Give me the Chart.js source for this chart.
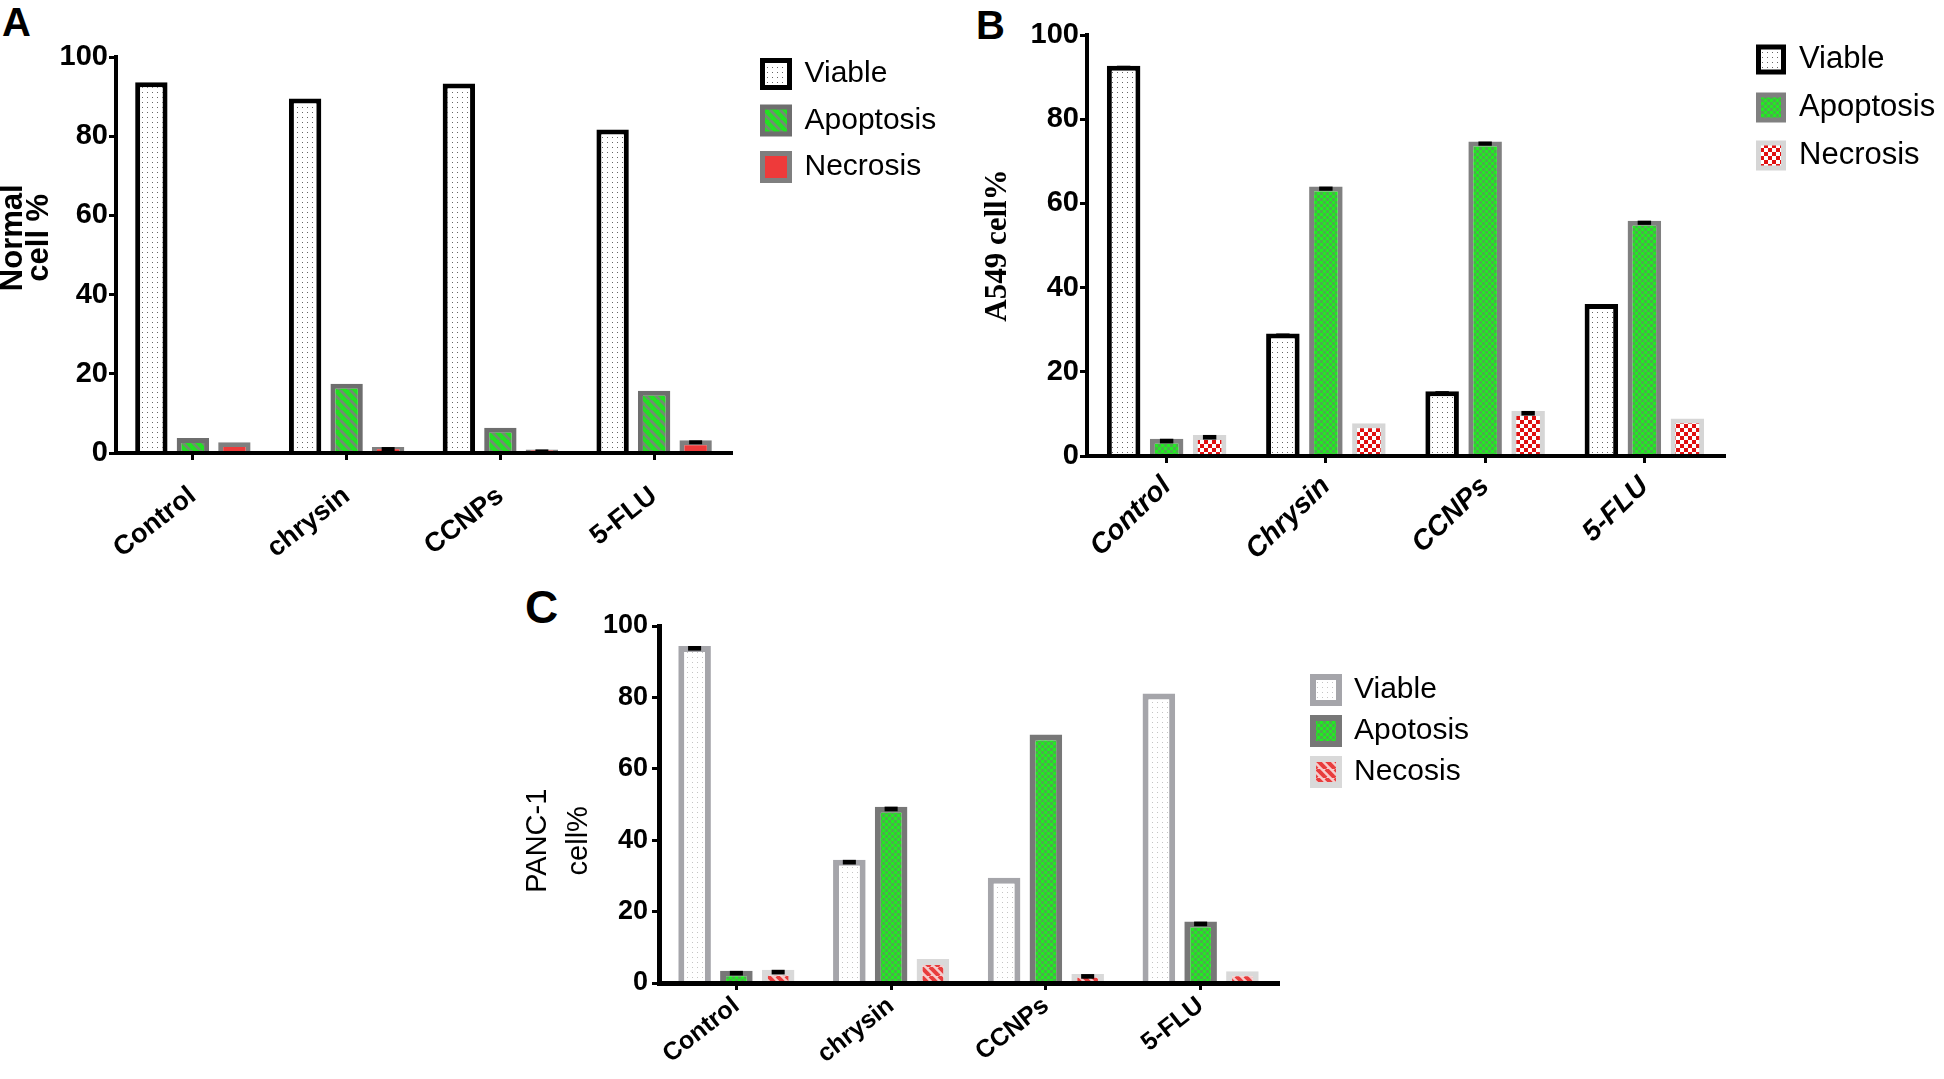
<!DOCTYPE html>
<html>
<head>
<meta charset="utf-8">
<script src="https://cdn.jsdelivr.net/npm/chart.js@4.4.1/dist/chart.umd.min.js"></script>
<style>
  html, body { margin: 0; padding: 0; background: #fff; }
  body { width: 1944px; height: 1079px; position: relative; overflow: hidden; font-family: 'Liberation Sans', Arial, sans-serif; }
  canvas { position: absolute; }
  .tag { position: absolute; font-weight: bold; line-height: 1; color: #000; }
</style>
</head>
<body>
<div class="tag" style="left:2px;top:2px;font-size:40px">A</div>
<div class="tag" style="left:976px;top:5px;font-size:40px">B</div>
<div class="tag" style="left:525px;top:584px;font-size:46px">C</div>
<canvas id="chartA" width="960" height="580" style="left:0;top:0"></canvas>
<canvas id="chartB" width="984" height="580" style="left:960px;top:0"></canvas>
<canvas id="chartC" width="1100" height="499" style="left:480px;top:580px"></canvas>
<script>
// categories
const groups = ['Control', 'chrysin', 'CCNPs', '5-FLU'];
const groupsB = ['Control', 'Chrysin', 'CCNPs', '5-FLU'];
const yTicks = [0, 20, 40, 60, 80, 100];

// A - normal cells
const normalViable = [93.6, 89.5, 93.3, 81.7];
const normalApoptosis = [3.8, 17.5, 6.4, 15.7];
const normalNecrosis = [2.7, 1.5, 0.9, 3.2];
const normalNecrosisErr = [0, 1.0, 0.7, 1.0];

// B - A549
const a549Viable = [92.7, 29.1, 15.4, 36.1];
const a549Apoptosis = [4.1, 64.0, 74.7, 55.9];
const a549Necrosis = [5.0, 7.8, 10.7, 8.9];
const a549ViableErr = [0.4, 0.4, 0.4, 0.4];
const a549ApoptosisErr = [1.1, 1.0, 1.0, 1.0];
const a549NecrosisErr = [1.1, 0, 1.1, 0];

// C - PANC-1
const pancViable = [94.4, 34.5, 29.5, 81.1];
const pancApoptosis = [3.4, 49.4, 69.6, 17.2];
const pancNecosis = [3.7, 6.7, 2.5, 3.3];
const pancViableErr = [1.3, 1.3, 0, 0];
const pancApoptosisErr = [1.3, 1.3, 0, 1.3];
const pancNecosisErr = [1.3, 0, 1.3, 0];

const SANS = "'Liberation Sans', Arial, Helvetica, sans-serif";
const SERIF = "'Liberation Serif', 'Times New Roman', serif";
Chart.defaults.font.family = SANS;

// fill patterns
function tile(size, draw) {
  const c = document.createElement('canvas');
  c.width = c.height = size;
  const g = c.getContext('2d');
  draw(g, size);
  return g.createPattern(c, 'repeat');
}
function dots(col) {
  return tile(5, (g, s) => { g.fillStyle = '#fff'; g.fillRect(0, 0, s, s); g.fillStyle = col; g.fillRect(2, 2, 1, 1); });
}
function stripes(bg, fg, s, w) {
  return tile(s, (g) => {
    g.fillStyle = bg; g.fillRect(0, 0, s, s);
    g.strokeStyle = fg; g.lineWidth = w;
    for (const o of [-s, 0, s]) { g.beginPath(); g.moveTo(o, 0); g.lineTo(o + s, s); g.stroke(); }
  });
}
function checker(c1, c2, cell) {
  return tile(cell * 2, (g, s) => {
    g.fillStyle = c1; g.fillRect(0, 0, s, s);
    g.fillStyle = c2; g.fillRect(0, 0, cell, cell); g.fillRect(cell, cell, cell, cell);
  });
}

// moves the legend to a fixed spot beside the plot
const pinLegend = {
  id: 'pinLegend',
  afterLayout(chart, args, opts) {
    const lg = chart.legend;
    if (!lg || opts.left == null) return;
    const w = lg.width + 40, h = lg.height;
    lg.left = opts.left; lg.top = opts.top;
    lg.right = opts.left + w; lg.bottom = opts.top + h;
  }
};

// small black SEM caps on top of bars
const errCaps = {
  id: 'errCaps',
  afterDatasetsDraw(chart) {
    const ctx = chart.ctx, y = chart.scales.y;
    chart.data.datasets.forEach((ds, i) => {
      if (!ds.errors) return;
      chart.getDatasetMeta(i).data.forEach((bar, j) => {
        const e = ds.errors[j];
        if (!e) return;
        const top = y.getPixelForValue(ds.data[j]);
        const bot = y.getPixelForValue(ds.data[j] - e);
        const w = bar.width * 0.4;
        ctx.fillStyle = '#000';
        ctx.fillRect(bar.x - w / 2, top, w, Math.max(bot - top, 3));
      });
    });
  }
};

function panel(id, cfg) {
  return new Chart(document.getElementById(id), {
    type: 'bar',
    data: {
      labels: cfg.labels,
      datasets: cfg.sets.map(d => ({
        label: d.label,
        data: d.data,
        errors: d.err,
        backgroundColor: d.fill,
        borderColor: d.border,
        borderWidth: d.bw,
        borderSkipped: 'start',
        categoryPercentage: 0.81,
        barPercentage: 0.78
      }))
    },
    options: {
      responsive: false,
      animation: false,
      devicePixelRatio: 1,
      layout: { padding: cfg.pad },
      plugins: {
        legend: {
          position: 'chartArea',
          align: 'start',
          labels: {
            color: '#000',
            font: { family: SANS, size: cfg.legFont },
            boxWidth: cfg.box, boxHeight: cfg.box,
            padding: cfg.legPad
          }
        },
        tooltip: { enabled: false },
        pinLegend: cfg.legendAt
      },
      scales: {
        x: {
          grid: { drawOnChartArea: false, drawTicks: true, tickLength: 7, lineWidth: 3, color: '#000', offset: false },
          border: { display: true, color: '#000', width: cfg.axisW, z: 1 },
          ticks: { color: '#000', font: cfg.xFont, maxRotation: cfg.rot, minRotation: cfg.rot, autoSkip: false, padding: cfg.xPad },
          afterFit: s => { s.height = cfg.xH; }
        },
        y: {
          min: 0,
          max: 100,
          afterBuildTicks: s => { s.ticks = yTicks.map(v => ({ value: v })); },
          grid: { drawOnChartArea: false, drawTicks: true, tickLength: 7, lineWidth: 3, color: '#000' },
          border: { display: true, color: '#000', width: cfg.axisW, z: 1 },
          ticks: { color: '#000', font: cfg.yFont, padding: cfg.yPad },
          title: { display: true, text: cfg.yTitle, color: '#000', font: cfg.yTitleFont, padding: { top: cfg.titlePad, bottom: 0 } },
          afterFit: s => { s.width = cfg.yW; }
        }
      }
    },
    plugins: [pinLegend, errCaps]
  });
}

panel('chartA', {
  labels: groups,
  sets: [
    { label: 'Viable', data: normalViable, fill: dots('#666'), border: '#000', bw: 5 },
    { label: 'Apoptosis', data: normalApoptosis, fill: stripes('#22e022', '#6f8f6f', 10, 3), border: '#6e6e6e', bw: 5 },
    { label: 'Necrosis', data: normalNecrosis, err: normalNecrosisErr, fill: '#ee3a3a', border: '#7f7f7f', bw: 5 }
  ],
  pad: { left: 0, top: 57, right: 229, bottom: 0 },
  yW: 116, xH: 127, axisW: 4,
  yTitle: ['    Normal', '    cell %'],
  yTitleFont: { family: SANS, size: 31, weight: 'bold', lineHeight: 0.85 },
  titlePad: 0,
  yFont: { family: SANS, size: 29, weight: 'bold' }, yPad: 1,
  xFont: { family: SANS, size: 27, weight: 'bold' }, rot: 38, xPad: 20,
  legFont: 30, box: 27, legPad: 16.5,
  legendAt: { left: 746, top: 42.5 }
});

panel('chartB', {
  labels: groupsB,
  sets: [
    { label: 'Viable', data: a549Viable, err: a549ViableErr, fill: dots('#666'), border: '#000', bw: 5 },
    { label: 'Apoptosis', data: a549Apoptosis, err: a549ApoptosisErr, fill: checker('#22ea22', '#4cae4c', 3), border: '#808080', bw: 5 },
    { label: 'Necrosis', data: a549Necrosis, err: a549NecrosisErr, fill: checker('#e01010', '#ffffff', 4), border: '#d6d6d6', bw: 5 }
  ],
  pad: { left: 0, top: 35, right: 220, bottom: 0 },
  yW: 127, xH: 124, axisW: 4,
  yTitle: 'A549 cell%',
  yTitleFont: { family: SERIF, size: 31, weight: 'bold', lineHeight: 1 },
  titlePad: 22,
  yFont: { family: SANS, size: 29, weight: 'bold' }, yPad: 1,
  xFont: { family: SANS, size: 28, weight: 'bold', style: 'italic' }, rot: 44, xPad: 7,
  legFont: 31, box: 25, legPad: 17,
  legendAt: { left: 781.5, top: 27 }
});

panel('chartC', {
  labels: groups,
  sets: [
    { label: 'Viable', data: pancViable, err: pancViableErr, fill: dots('#c4c4c4'), border: '#a5a5aa', bw: 6 },
    { label: 'Apotosis', data: pancApoptosis, err: pancApoptosisErr, fill: checker('#22ea22', '#4cae4c', 3), border: '#777777', bw: 6 },
    { label: 'Necosis', data: pancNecosis, err: pancNecosisErr, fill: stripes('#f6cccc', '#e83c3c', 9, 4), border: '#d9d9d9', bw: 6 }
  ],
  pad: { left: 0, top: 46, right: 302, bottom: 0 },
  yW: 179, xH: 96, axisW: 5,
  yTitle: ['PANC-1         ', 'cell%         '],
  yTitleFont: { family: SANS, size: 29, weight: 'normal', lineHeight: 1.4 },
  titlePad: 38,
  yFont: { family: SANS, size: 27, weight: 'bold' }, yPad: 4,
  xFont: { family: SANS, size: 25, weight: 'bold' }, rot: 38, xPad: 1,
  legFont: 30, box: 26, legPad: 11,
  legendAt: { left: 822, top: 84 }
});
</script>
</body>
</html>
